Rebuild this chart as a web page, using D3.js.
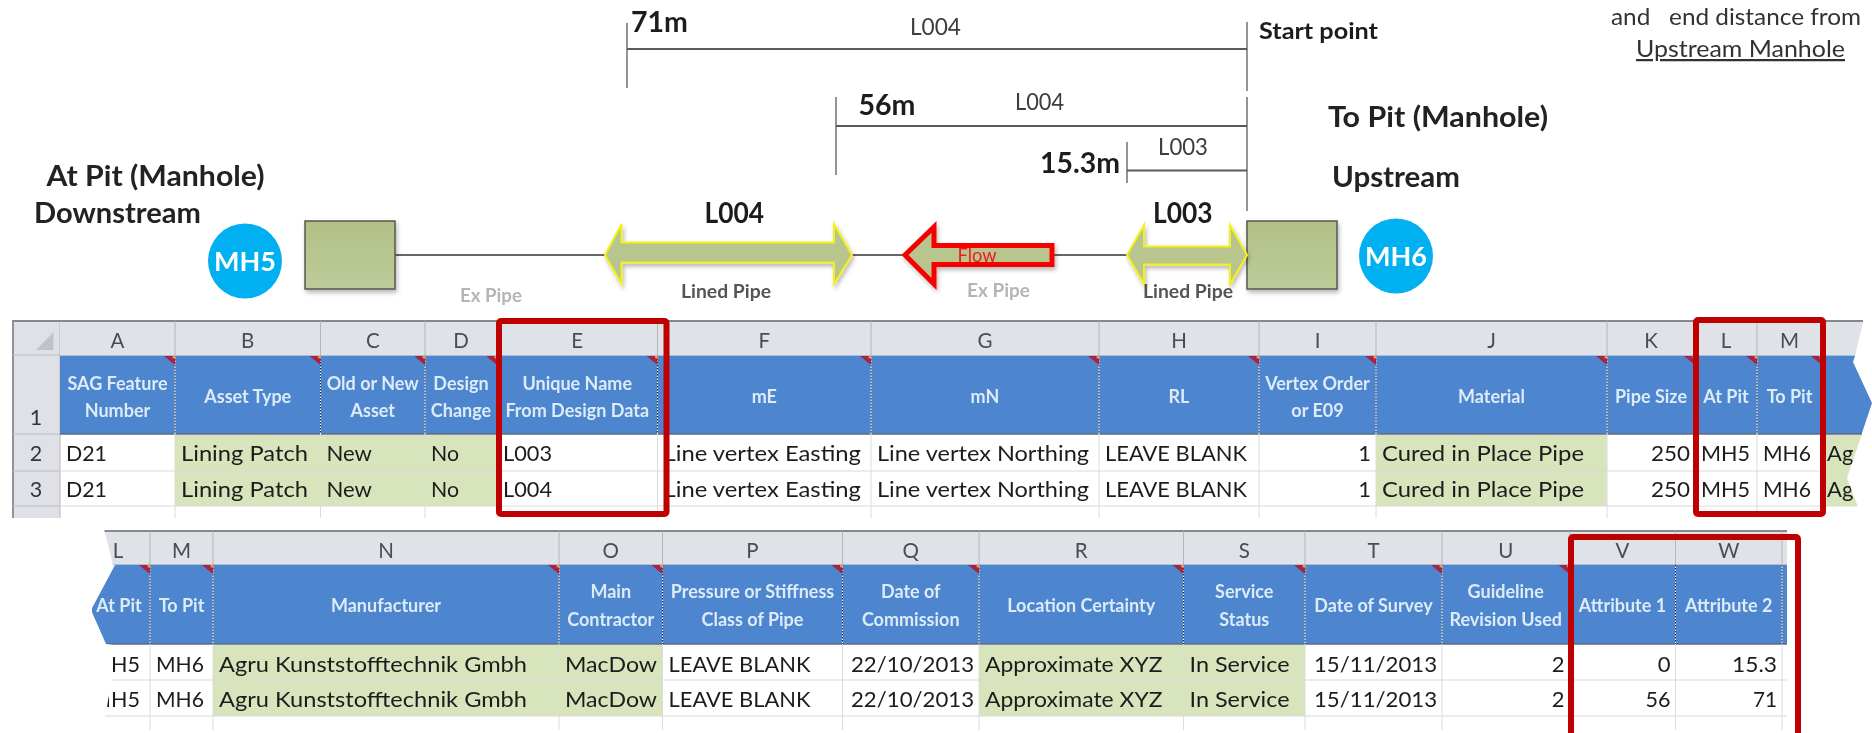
<!DOCTYPE html>
<html><head><meta charset="utf-8">
<script src="https://cdnjs.cloudflare.com/ajax/libs/d3/7.8.5/d3.min.js"></script>
<style>html,body{margin:0;padding:0;background:#fff}svg{display:block}text{font-family:Lato,"Open Sans",sans-serif;white-space:pre}</style>
</head><body><svg id="c" width="1872" height="733"></svg>
<script>
// ---- data ----
const sheet1Columns = ["A","B","C","D","E","F","G","H","I","J","K","L","M"];
const sheet1Headers = ["SAG Feature\nNumber","Asset Type","Old or New\nAsset","Design\nChange","Unique Name\nFrom Design Data","mE","mN","RL","Vertex Order\nor E09","Material","Pipe Size","At Pit","To Pit"];
const sheet1Row2 = ["D21","Lining Patch","New","No","L003","Line vertex Easting","Line vertex Northing","LEAVE BLANK",1,"Cured in Place Pipe",250,"MH5","MH6"];
const sheet1Row3 = ["D21","Lining Patch","New","No","L004","Line vertex Easting","Line vertex Northing","LEAVE BLANK",1,"Cured in Place Pipe",250,"MH5","MH6"];
const sheet2Columns = ["L","M","N","O","P","Q","R","S","T","U","V","W"];
const sheet2Headers = ["At Pit","To Pit","Manufacturer","Main\nContractor","Pressure or Stiffness\nClass of Pipe","Date of\nCommission","Location Certainty","Service\nStatus","Date of Survey","Guideline\nRevision Used","Attribute 1","Attribute 2"];
const sheet2Row2 = ["MH5","MH6","Agru Kunststofftechnik Gmbh","MacDow","LEAVE BLANK","22/10/2013","Approximate XYZ","In Service","15/11/2013",2,0,15.3];
const sheet2Row3 = ["MH5","MH6","Agru Kunststofftechnik Gmbh","MacDow","LEAVE BLANK","22/10/2013","Approximate XYZ","In Service","15/11/2013",2,56,71];
const attribute1 = [0, 56];
const attribute2 = [15.3, 71];
const pipeNames = ["L003","L004"];
const pits = ["MH5","MH6"];

// ---- layout ----
const cellWidths = new Map([["D21",41],["Lining Patch",127],["New",45.5],["No",28],["L003",49],["L004",49],
  ["Line vertex Easting",197.5],["Line vertex Northing",212],["LEAVE BLANK",142],["Cured in Place Pipe",202],
  ["250",39],["MH5",49],["MH6",48],["Agru Kunststofftechnik Gmbh",308],["MacDow",92],["22/10/2013",123],
  ["Approximate XYZ",177.5],["In Service",100],["15/11/2013",123],["15.3",45],["56",25],["71",24]]);
const svg = d3.select("#c");
const defs = svg.append("defs");
const soft = defs.append("filter").attr("id","soft").attr("x","-2%").attr("y","-2%").attr("width","104%").attr("height","104%");
soft.append("feGaussianBlur").attr("stdDeviation",0.55);
const shadow = defs.append("filter").attr("id","sh").attr("x","-10%").attr("y","-10%").attr("width","125%").attr("height","130%");
shadow.append("feDropShadow").attr("dx",1.5).attr("dy",3).attr("stdDeviation",2).attr("flood-color","#000").attr("flood-opacity",.28);
const grad = defs.append("linearGradient").attr("id","sq").attr("x1",0).attr("x2",0).attr("y1",0).attr("y2",1);
grad.append("stop").attr("offset",0).attr("stop-color","#b2c086");
grad.append("stop").attr("offset",1).attr("stop-color","#bdcb99");
defs.append("clipPath").attr("id","clip1").append("polygon")
  .attr("points","0,300 1863,300 1863,322 1855,356 1853,362 1872,403 1862,433 1862,434 1847,478 1858,507 1858,530 0,530");
defs.append("clipPath").attr("id","clip2").append("polygon")
  .attr("points","103,525 113,565 115,565 91,610 106,644 113,645 113,680 112,680 105,716 105,733 1800,733 1800,525");

const root = svg.append("g").attr("filter","url(#soft)");
const DARK = "#1c1c1c", BLUE = "#4e85cf", GREEN = "#d8e4bc", BAND = "#dfe2e7", HDR = "#dcebf8", RED = "#bf0000";

function label(g, t, x, y, size, opt={}) {
  const n = g.append("text").attr("x",x).attr("y",y).attr("font-size",size)
    .attr("font-weight",opt.w||400).attr("fill",opt.c||DARK).attr("text-anchor",opt.a||"start").text(t);
  if (opt.len) n.attr("textLength",opt.len).attr("lengthAdjust","spacingAndGlyphs");
  if (opt.u) n.attr("text-decoration","underline");
  return n;
}

function sheet(g, o) {
  const left = d3.scaleOrdinal(o.cols, o.edges.slice(0,-1));
  const right = d3.scaleOrdinal(o.cols, o.edges.slice(1));
  const y = o.y;
  g.append("rect").attr("x",o.bandX).attr("y",y.top).attr("width",o.bandR-o.bandX).attr("height",y.hdr-y.top).attr("fill",BAND);
  g.append("rect").attr("x",o.bandX).attr("y",y.hdr).attr("width",o.bandR-o.bandX).attr("height",y.r2-y.hdr).attr("fill",BLUE);
  g.append("line").attr("x1",o.bandX).attr("x2",o.bandR).attr("y1",y.top).attr("y2",y.top).attr("stroke","#85898e").attr("stroke-width",2);
  g.append("line").attr("x1",o.bandX).attr("x2",o.bandR).attr("y1",y.hdr-.5).attr("y2",y.hdr-.5).attr("stroke","#a9c0dc");
  g.append("line").attr("x1",o.bandX).attr("x2",o.bandR).attr("y1",y.r2).attr("y2",y.r2).attr("stroke","#5d6d82").attr("stroke-width",1.5);

  o.cols.forEach((c,i)=>{
    const l = left(c), r = right(c), cx = (o.letterX && o.letterX[c]) || (l+r)/2;
    if (o.green.includes(c)) g.append("rect").attr("x",l).attr("y",y.r2+1).attr("width",r-l).attr("height",y.end-y.r2-1).attr("fill",GREEN);
    g.append("line").attr("x1",r).attr("x2",r).attr("y1",y.top).attr("y2",y.hdr).attr("stroke","#b3b6bb");
    label(g, c, cx, y.letter, 20.5, {a:"middle", c:"#4a4d52"});
    const lines = o.heads[i].split("\n");
    const hc = (o.headX && o.headX[c]) || (l+r)/2;
    const ys = lines.length===2 ? [y.h1,y.h2] : [y.hs];
    lines.forEach((t,k)=>label(g,t,hc,ys[k],o.hSize,{a:"middle",w:700,c:HDR}));
    [o.r2,o.r3].forEach((row,k)=>{
      const v = row[i], num = typeof v === "number" || /^\d\d\/\d\d/.test(v);
      const x = num ? r-5 : (i===0 && o.firstX ? o.firstX : l+6);
      label(g, String(v), x, k===0?y.b2:y.b3, o.size, {a:num?"end":"start",len:cellWidths.get(String(v))});
    });
    g.append("line").attr("x1",r).attr("x2",r).attr("y1",y.r2).attr("y2",y.stub).attr("stroke","#dcdcdc");
    g.append("line").attr("x1",r).attr("x2",r).attr("y1",y.hdr).attr("y2",y.r2).attr("stroke","#fff");
    g.append("line").attr("x1",r).attr("x2",r).attr("y1",y.hdr).attr("y2",y.r2).attr("stroke","#15233a").attr("stroke-dasharray","1.5,1.5");
    if (!o.noTri.includes(c)) {
      g.append("path").attr("d",d3.line()([[r-11,y.hdr],[r,y.hdr],[r,y.hdr+9]])+"Z").attr("fill","#a9233f");
      g.append("circle").attr("cx",r-1).attr("cy",y.hdr+1).attr("r",1.6).attr("fill","#ee9a50");
    }
  });
  [y.r3, y.end].forEach(v=>g.append("line").attr("x1",o.gridX).attr("x2",o.bandR).attr("y1",v).attr("y2",v).attr("stroke","#d9d9d9").attr("stroke-width",1));
}

// ---- sheet 1 ----
const s1 = root.append("g").attr("clip-path","url(#clip1)");
s1.append("rect").attr("x",13).attr("y",321).attr("width",47).attr("height",197).attr("fill","#dfe1e6");
s1.append("path").attr("d",d3.line()([[53.5,332],[53.5,350],[36,350]])+"Z").attr("fill","#bfc3c7");
s1.append("line").attr("x1",13).attr("x2",13).attr("y1",320).attr("y2",518).attr("stroke","#6f7378").attr("stroke-width",1.5);
s1.append("line").attr("x1",60).attr("x2",60).attr("y1",321).attr("y2",518).attr("stroke","#b3b6bb");
s1.append("line").attr("x1",13).attr("x2",60).attr("y1",321).attr("y2",321).attr("stroke","#85898e").attr("stroke-width",2);
[355,434,471,506].forEach(v=>s1.append("line").attr("x1",13).attr("x2",60).attr("y1",v).attr("y2",v).attr("stroke","#b9bcc1"));
[["1",425],["2",461],["3",497]].forEach(d=>label(s1,d[0],36,d[1],21.5,{a:"middle",c:"#33363a"}));

sheet(s1,{cols:sheet1Columns,heads:sheet1Headers,r2:sheet1Row2,r3:sheet1Row3,
  edges:[60,175,320.5,425,497,657.5,871,1099,1259,1376,1607,1695,1757,1822],
  y:{top:321,hdr:356,r2:434,r3:471,end:506,stub:518,letter:348,h1:390,h2:417,hs:403,b2:461,b3:497},
  bandX:60,bandR:1880,gridX:60,green:["B","C","D","J"],noTri:[],hSize:18,size:22});
s1.append("rect").attr("x",1822).attr("y",435).attr("width",60).attr("height",71).attr("fill",GREEN);
label(s1,"Ag",1827,461,22);label(s1,"Ag",1827,497,22);

// ---- sheet 2 ----
const s2 = root.append("g").attr("clip-path","url(#clip2)");
sheet(s2,{cols:sheet2Columns,heads:sheet2Headers,r2:sheet2Row2,r3:sheet2Row3,
  edges:[92,150,213,559,662.5,842.5,979,1183.5,1305,1442,1569.5,1675.5,1782],
  y:{top:531,hdr:565,r2:644,r3:680,end:716,stub:730,letter:558,h1:598,h2:626,hs:612,b2:672,b3:707},
  letterX:{L:118},headX:{L:119},firstX:91,
  bandX:92,bandR:1787,gridX:105,green:["N","O","R","S"],noTri:["V","W"],hSize:18,size:22});

// ---- dimension lines ----
const dim = root.append("g").attr("stroke","#5a5a5a").attr("fill","none");
const distX = d3.scaleOrdinal([attribute2[1],attribute1[1],attribute2[0],attribute1[0]],[627,836,1127,1247]);
const seg = (x1,y1,x2,y2,w)=>dim.append("line").attr("x1",x1).attr("y1",y1).attr("x2",x2).attr("y2",y2).attr("stroke-width",w);
seg(distX(71),23,distX(71),88,1.3); seg(distX(71),49,distX(0),49,2);
seg(distX(0),22,distX(0),91,1.3);
seg(distX(56),97,distX(56),175,1.3); seg(distX(56),126,distX(0),126,2);
seg(distX(0),97,distX(0),211,1.3);
seg(distX(15.3),142,distX(15.3),183,1.3); seg(distX(15.3),170.5,distX(0),170.5,2);

// ---- pipe & pits ----
const pipe = root.append("g");
pipe.append("line").attr("x1",395).attr("x2",1247).attr("y1",255).attr("y2",255).attr("stroke","#666").attr("stroke-width",2);
const pitX = d3.scaleOrdinal(pits,[305,1247]);
const pitCx = d3.scaleOrdinal(pits,[245,1396]);
const pitCy = d3.scaleOrdinal(pits,[261,256]);
pits.forEach(p=>{
  pipe.append("rect").attr("x",pitX(p)).attr("y",221).attr("width",90).attr("height",68).attr("fill","url(#sq)").attr("stroke","#55584c").attr("stroke-width",1.5).attr("filter","url(#sh)");
  pipe.append("ellipse").attr("cx",pitCx(p)).attr("cy",pitCy(p)).attr("rx",37).attr("ry",37.5).attr("fill","#00b0f0");
  label(pipe,p,pitCx(p),pitCy(p)+9.5,27,{a:"middle",c:"#fff",w:700,len:62});
});
// ---- arrows ----
const dblArrow=(x0,x1,hx0,hx1,yT,yB,sT,sB,yC)=>d3.line()([[x0,yC],[hx0,yT],[hx0,sT],[hx1,sT],[hx1,yT],[x1,yC],[hx1,yB],[hx1,sB],[hx0,sB],[hx0,yB]])+"Z";
pipe.append("path").attr("d",dblArrow(605,852,621.5,834,224,284,242.5,262.5,255)).attr("fill","#b9c58f").attr("stroke","#f4f01a").attr("stroke-width",2).attr("filter","url(#sh)");
pipe.append("path").attr("d",dblArrow(1127,1247,1144,1230,225,284,246.5,264.5,255)).attr("fill","#b9c58f").attr("stroke","#f4f01a").attr("stroke-width",2).attr("filter","url(#sh)");
pipe.append("path").attr("d",d3.line()([[905,255],[934,227],[934,245.5],[1052,245.5],[1052,264.5],[934,264.5],[934,284]])+"Z").attr("fill","#b9c58f").attr("stroke","#f60000").attr("stroke-width",5).attr("filter","url(#sh)");

// ---- labels ----
const L = root.append("g");
label(L,"71m",631,32,28,{w:700,len:57});
label(L,"56m",858.5,115,28,{w:700,len:57});
label(L,"15.3m",1040,173,28,{w:700,len:80});
label(L,pipeNames[1],910,35,23,{c:"#3c3c3c",len:51});
label(L,pipeNames[1],1015,110,23,{c:"#3c3c3c",len:49});
label(L,pipeNames[0],1158,155,23,{c:"#3c3c3c",len:50});
label(L,"Start point",1259,38.5,23.5,{w:700,len:119});
label(L,"and   end distance from",1611,25,22.5,{c:"#333",len:250});
label(L,"Upstream Manhole",1636,57,22.5,{c:"#333",len:209,u:true});
label(L,"To Pit (Manhole)",1328,127,28,{w:700,c:"#222",len:220});
label(L,"Upstream",1332,187,28,{w:700,c:"#222",len:128});
label(L,"At Pit (Manhole)",46.5,185.5,28,{w:700,c:"#222",len:218});
label(L,"Downstream",34,223,28,{w:700,c:"#222",len:167});
label(L,pipeNames[1],704.5,223,28,{w:700,len:59.5});
label(L,pipeNames[0],1153,223,28,{w:700,len:59.5});
label(L,"Flow",977,262,19,{a:"middle",c:"#ee1c1c",len:39});
label(L,"Ex Pipe",460,302,18.5,{w:700,c:"#b5b5b5",len:62});
label(L,"Ex Pipe",967,297,18.5,{w:700,c:"#b5b5b5",len:63});
label(L,"Lined Pipe",681,298,18.5,{w:700,c:"#555",len:90});
label(L,"Lined Pipe",1143,298,18.5,{w:700,c:"#555",len:90});

// ---- highlight boxes ----
const box=(x0,y0,x1,y1)=>root.append("rect").attr("x",x0).attr("y",y0).attr("width",x1-x0).attr("height",y1-y0).attr("rx",2).attr("fill","none").attr("stroke",RED).attr("stroke-width",6);
box(499,321,666.5,514);
box(1696,320,1823,514);
box(1571,537,1798,760);
</script></body></html>
